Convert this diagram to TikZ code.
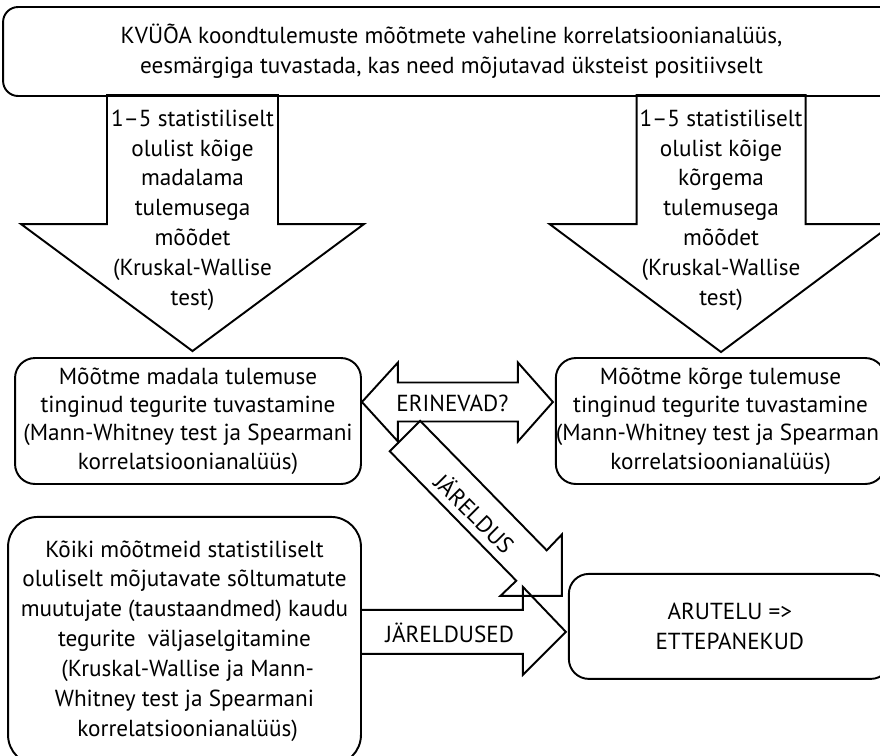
\documentclass[tikz,border=0pt]{standalone}
\usepackage{fontspec}
\setmainfont{PT Sans}
\usetikzlibrary{positioning, calc}

\begin{document}
\begin{tikzpicture}[
    x=0.02cm, y=-0.02cm,
    font=\fontsize{13.2}{17}\selectfont,
    box/.style={rectangle, rounded corners=0.4cm, draw, line width=1.1pt, align=center, inner sep=0pt},
    blockarrow/.style={draw, line width=1.1pt, line join=miter},
    arrowtext/.style={align=center, inner sep=0pt}
]
\useasboundingbox (0,0) rectangle (880,755);

\node[box, rounded corners=0.3cm, minimum width=17.94cm, minimum height=1.78cm] (goal) at (451.5,51.5) {KVÜÕA koondtulemuste mõõtmete vaheline korrelatsioonianalüüs,\\eesmärgiga tuvastada, kas need mõjutavad üksteist positiivselt};

\node[box, minimum width=6.92cm, minimum height=2.52cm, font=\fontsize{13.2}{16.2}\selectfont] (low) at (188,421) {Mõõtme madala tulemuse\\tinginud tegurite tuvastamine\\(Mann-Whitney test ja Spearmani\\korrelatsioonianalüüs)};
\node[box, right=3.86cm of low, minimum width=6.56cm, minimum height=2.52cm, font=\fontsize{13.2}{16.2}\selectfont] (high) {Mõõtme kõrge tulemuse\\tinginud tegurite tuvastamine\\(Mann-Whitney test ja Spearmani\\korrelatsioonianalüüs)};

\node[box, rounded corners=0.6cm, minimum width=7.06cm, minimum height=4.96cm, below=0.62cm of low.south east, anchor=north east] (causes) {Kõiki mõõtmeid statistiliselt\\oluliselt mõjutavate sõltumatute\\muutujate (taustaandmed) kaudu\\tegurite \ väljaselgitamine\\\ (Kruskal-Wallise ja Mann-\\Whitney test ja Spearmani\\\ korrelatsioonianalüüs)};
\node[box, minimum width=6.44cm, minimum height=2.1cm, below=1.76cm of high.south west, anchor=north west, xshift=0.26cm] (discuss) {ARUTELU =>\\ETTEPANEKUD};

% allapoole suunatud nooled
\coordinate (ltip) at ($(low.north)+(4.5,-6)$);
\coordinate (rtip) at ($(high.north)+(0.5,-5)$);
\draw[blockarrow] (ltip) -- +(-171.5,-127) -- +(-85.5,-127) -- +(-85.5,-256) -- +(85.5,-256) -- +(85.5,-127) -- +(171.5,-127) -- cycle;
\draw[blockarrow] (rtip) -- +(-171.5,-128) -- +(-84.5,-128) -- +(-84.5,-257) -- +(84.5,-257) -- +(84.5,-128) -- +(171.5,-128) -- cycle;
\node[arrowtext] (lowtext) at ($(ltip)+(0,-141)$) {1--5 statistiliselt\\olulist kõige\\madalama\\tulemusega\\mõõdet\\(Kruskal-Wallise\\test)};
\node[arrowtext] (hightext) at ($(rtip)+(0,-142)$) {1--5 statistiliselt\\olulist kõige\\kõrgema\\tulemusega\\mõõdet\\(Kruskal-Wallise\\test)};

% kahesuunaline nool
\coordinate (dl) at ($(low.east)+(0,-19)$);
\coordinate (dr) at ($(high.west)+(-2,-19)$);
\draw[blockarrow] (dl) -- ($(dl)+(36,-39.5)$) -- ($(dl)+(36,-19.5)$) -- ($(dr)+(-35,-19.5)$) -- ($(dr)+(-35,-39.5)$) -- (dr)
    -- ($(dr)+(-35,39.5)$) -- ($(dr)+(-35,19.5)$) -- ($(dl)+(36,19.5)$) -- ($(dl)+(36,39.5)$) -- cycle;
\node[arrowtext] (differ) at ($(dl)!0.5!(dr)+(-5,1)$) {ERINEVAD?};

% järeldused
\coordinate (jt) at ($(causes.east)+(0,-9)$);
\coordinate (jh) at ($(discuss.west)+(-2,5.5)$);
\draw[blockarrow] ($(jt)+(0,-22)$) -- ($(jh)+(-43,-22)$) -- ($(jh)+(-43,-45)$) -- (jh) -- ($(jh)+(-43,43)$) -- ($(jh)+(-43,22)$) -- ($(jt)+(0,22)$);
\node[arrowtext] (conclusions) at ($(jt)!0.43!(jh)+(0,1)$) {JÄRELDUSED};

% diagonaalne nool
\coordinate (dtail) at ($(low.east)+(43,15)$);
\coordinate (dtip) at ($(discuss.north west)+(-6,23)$);
\draw[blockarrow] ($(dtail)+(15.2,-15.2)$) -- ($(dtip)+(-15.2,-45.6)$) -- ($(dtip)+(0,-61.5)$) -- (dtip) -- ($(dtip)+(-61.5,0)$) -- ($(dtip)+(-45.6,-15.2)$) -- ($(dtail)+(-15.2,15.2)$) -- cycle;
\node[arrowtext, rotate=-45] (conclusion) at (475,513) {JÄRELDUS};
\end{tikzpicture}
\end{document}
